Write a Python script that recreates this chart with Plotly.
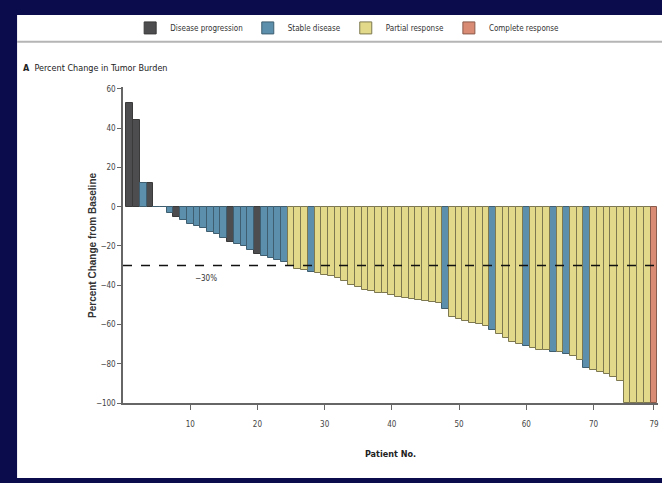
import plotly.graph_objects as go

# ---- data ----
patients = list(range(1, 80))
pct_change = [53, 44, 12, 12, 0, 0, -3, -5, -7, -9,
              -10, -11, -13, -14, -16, -18, -19, -20, -22, -24,
              -25, -26, -27, -28, -30, -31.5, -32, -33, -34, -35,
              -35.5, -36.5, -38, -40, -41, -42.5, -43, -44, -44, -45,
              -46, -46.5, -47, -47.5, -48, -48.5, -49, -52, -56, -57,
              -58, -59, -60, -61, -63, -65, -67, -69, -70, -71,
              -72, -73, -73, -74, -74, -75, -76, -78, -82, -83,
              -84, -85, -87, -89, -100, -100, -100, -100, -100]
response = (["PD", "PD", "SD", "PD", "SD", "SD", "SD", "PD", "SD", "SD",
             "SD", "SD", "SD", "SD", "SD", "PD", "SD", "SD", "SD", "PD",
             "SD", "SD", "SD", "SD", "PR", "PR", "PR", "SD", "PR", "PR",
             "PR", "PR", "PR", "PR", "PR", "PR", "PR", "PR", "PR", "PR",
             "PR", "PR", "PR", "PR", "PR", "PR", "PR", "SD", "PR", "PR",
             "PR", "PR", "PR", "PR", "SD", "PR", "PR", "PR", "PR", "SD",
             "PR", "PR", "PR", "SD", "PR", "SD", "PR", "PR", "SD", "PR",
             "PR", "PR", "PR", "PR", "PR", "PR", "PR", "PR", "CR"])
categories = ["PD", "SD", "PR", "CR"]
category_names = ["Disease progression", "Stable disease", "Partial response", "Complete response"]
category_colors = ["#4d4d4f", "#5b8fac", "#e2da8a", "#d98b74"]
category_lines = ["#3a3a3a", "#3f5f70", "#7d7850", "#8a5a4a"]
x_ticks = [10, 20, 30, 40, 50, 60, 70, 79]
y_ticks = [60, 40, 20, 0, -20, -40, -60, -80, -100]
threshold = -30

NAVY = "#0b0c4b"
FONT = "Liberation Sans Narrow, DejaVu Sans Condensed, Arial Narrow, Liberation Sans, sans-serif"

fig = go.Figure()
for cat, name, col, lc in zip(categories, category_names, category_colors, category_lines):
    xs = [p for p, r in zip(patients, response) if r == cat]
    ys = [v for v, r in zip(pct_change, response) if r == cat]
    fig.add_trace(go.Bar(x=xs, y=ys, name=name, width=1.0,
                         marker=dict(color=col, line=dict(color=lc, width=1))))

# white panel over the navy background
fig.add_shape(type="rect", xref="paper", yref="paper", x0=-0.198, x1=1.01, y0=-0.237, y1=1.228,
              fillcolor="white", line=dict(width=0), layer="below")
# gray rule under legend
fig.add_shape(type="line", xref="paper", yref="paper", x0=-0.198, x1=1.01, y0=1.143, y1=1.143,
              line=dict(color="#b5b5b5", width=2), layer="below")
# -30% threshold
fig.add_shape(type="line", xref="x", yref="y", x0=0, x1=79.6, y0=threshold, y1=threshold,
              line=dict(color="#111111", width=1.5, dash="dash"), layer="above")
fig.add_annotation(x=12.3, y=-36.5, xref="x", yref="y", text="−30%", showarrow=False,
                   font=dict(family=FONT, size=8, color="#333"))
fig.add_annotation(x=-0.191, y=1.06, xref="paper", yref="paper", xanchor="left", yanchor="middle",
                   text="<b>A</b>  Percent Change in Tumor Burden", showarrow=False,
                   font=dict(family=FONT, size=9, color="#222"))
fig.add_annotation(x=-0.072, y=0.5, xref="paper", yref="paper", textangle=-90,
                   text="<b>Percent Change from Baseline</b>", showarrow=False,
                   font=dict(family="Liberation Sans, Arial, sans-serif", size=10, color="#333"))

fig.update_layout(
    width=662, height=483,
    margin=dict(l=123, r=4, t=87, b=80),
    paper_bgcolor=NAVY, plot_bgcolor="white",
    barmode="overlay", bargap=0,
    font=dict(family=FONT, size=8, color="#333"),
    showlegend=True,
    legend=dict(orientation="h", x=0.419, xanchor="center", y=1.187, yanchor="middle",
                font=dict(family=FONT, size=8, color="#333"), itemwidth=30,
                bgcolor="rgba(0,0,0,0)", tracegroupgap=0),
    xaxis=dict(range=[0, 79.6], tickvals=x_ticks, ticktext=[str(t) for t in x_ticks],
               ticks="outside", ticklen=5, tickcolor="#666", showline=True, linecolor="#666",
               linewidth=1.5, showgrid=False, zeroline=False, ticklabelstandoff=8,
               title=dict(text="<b>Patient No.</b>", font=dict(family=FONT, size=9, color="#222"), standoff=22),
               tickfont=dict(size=8, color="#444")),
    yaxis=dict(range=[-100, 61], tickvals=y_ticks, ticks="outside", ticklen=4, tickcolor="#666",
               showline=True, linecolor="#666", linewidth=1.5, showgrid=False, zeroline=False,
               tickfont=dict(size=8, color="#444")),
)

fig.write_html("out.html")
